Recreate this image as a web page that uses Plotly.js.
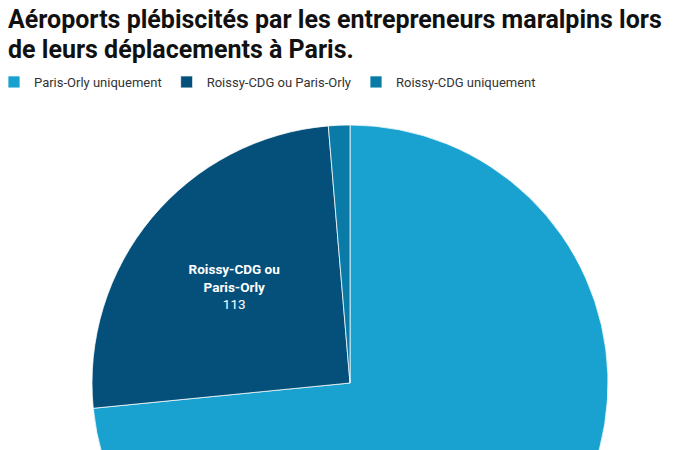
<!DOCTYPE html>
<html>
<head>
<meta charset="utf-8">
<script src="https://cdn.plot.ly/plotly-3.0.1.min.js"></script>
<style>
html,body{margin:0;padding:0;overflow:hidden;background:#fff;}
#chart{width:712px;height:700px;position:absolute;left:-6px;top:0;}
</style>
</head>
<body>
<div id="chart"></div>
<script>
const categories = ["Paris-Orly uniquement", "Roissy-CDG ou Paris-Orly", "Roissy-CDG uniquement"];
const values = [329, 113, 6];
const sliceLabels = ["Paris-Orly<br>uniquement", "Roissy-CDG ou<br>Paris-Orly", ""];
const titleLines = ["Aéroports plébiscités par les entrepreneurs maralpins lors", "de leurs déplacements à Paris."];
const colors = ["#19a2cf", "#05507a", "#0a7ba6"];

const trace = {
  type: "pie",
  labels: categories,
  values: values,
  customdata: sliceLabels,
  sort: false,
  direction: "clockwise",
  rotation: 0,
  marker: {colors: colors, line: {color: "rgba(255,255,255,0.75)", width: 1}},
  texttemplate: ["", "<b>%{customdata}</b><br>%{value}", ""],
  textposition: "inside",
  insidetextorientation: "horizontal",
  textfont: {family: "Roboto, sans-serif", size: 13.5, color: "#ffffff"},
  hoverinfo: "label+value",
  domain: {x: [0, 1], y: [0, 1]}
};

const W = 712, H = 700, T = 125, B = 59;
const plotH = H - T - B;
function paperY(px) { return (H - B - px) / plotH; }

const layout = {
  width: W,
  height: H,
  margin: {l: 0, r: 0, t: T, b: B},
  paper_bgcolor: "#ffffff",
  font: {family: "Roboto, sans-serif", color: "#222"},
  title: {
    text: "<b>" + titleLines[0] + "</b>",
    font: {family: "Roboto, sans-serif", size: 25, color: "#111"},
    x: 14/W, xanchor: "left",
    xref: "container", yref: "container",
    y: 1 - 28/H, yanchor: "bottom"
  },
  annotations: [{
    text: "<b>" + titleLines[1] + "</b>",
    font: {family: "Roboto, sans-serif", size: 25, color: "#111"},
    xref: "paper", yref: "paper",
    x: 0.0, xanchor: "left", xshift: 12,
    y: paperY(49.5), yanchor: "middle",
    showarrow: false
  }],
  showlegend: true,
  legend: {
    orientation: "h",
    x: 0, xanchor: "left",
    y: 1 - 67/H, yref: "container", yanchor: "top",
    font: {family: "Roboto, sans-serif", size: 13, color: "#333"},
    traceorder: "normal",
    itemwidth: 30
  }
};

Plotly.newPlot("chart", [trace], layout, {displayModeBar: false, staticPlot: true});
</script>
</body>
</html>
